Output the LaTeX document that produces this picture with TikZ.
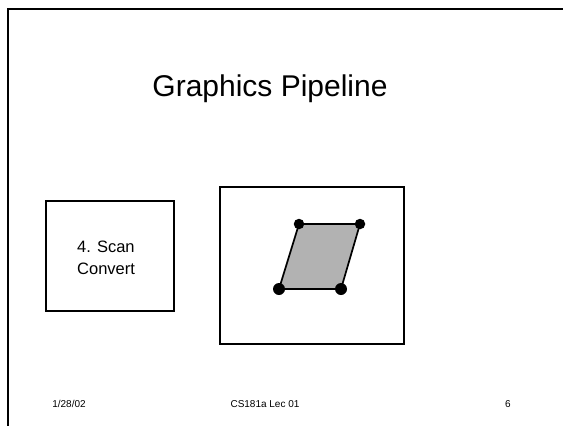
\documentclass[tikz,border=0pt]{standalone}
\usepackage{fontspec}
\setmainfont{Liberation Sans}
\begin{document}
\begin{tikzpicture}[x=1pt,y=-1pt,
  frameline/.style={line width=2.6pt},
  stagebox/.style={draw,line width=1.7pt},
  vertexdot/.style={circle,fill=black,inner sep=0pt,minimum size=10pt},
  footer/.style={font=\fontsize{10}{12}\selectfont,anchor=base}]
  \useasboundingbox (0,0) rectangle (563,426);
  % slide frame
  \coordinate (ftl) at (8,9);
  \coordinate (ftr) at (563,9);
  \coordinate (fbl) at (8,426);
  \draw[frameline] (ftr) -- (ftl) -- (fbl);
  % title
  \node[font=\fontsize{30}{36}\selectfont,anchor=base] (title) at (270,96) {Graphics Pipeline};
  % pipeline stage
  \draw[stagebox] (46,201) rectangle (174,311);
  \node[font=\fontsize{16.5}{22}\selectfont,align=left,anchor=north west,inner sep=0pt] (stage) at (77,241) {4. Scan\\Convert};
  % screen with scan-converted polygon
  \draw[stagebox] (220,187) rectangle (404,344);
  \coordinate (p1) at (299,224);
  \coordinate (p2) at (360,224);
  \coordinate (p3) at (341,289);
  \coordinate (p4) at (279,289);
  \filldraw[fill=black!30,line width=1.7pt] (p1) -- (p2) -- (p3) -- (p4) -- cycle;
  \node[vertexdot,minimum size=10.5pt] (v1) at (p1) {};
  \node[vertexdot,minimum size=10.5pt] (v2) at (p2) {};
  \node[vertexdot,minimum size=12pt] (v3) at (p3) {};
  \node[vertexdot,minimum size=12pt] (v4) at (p4) {};
  % footer
  \node[footer] (date) at (69,407) {1/28/02};
  \node[footer] (course) at (265,407) {CS181a Lec 01};
  \node[footer] (page) at (508,407) {6};
\end{tikzpicture}
\end{document}
